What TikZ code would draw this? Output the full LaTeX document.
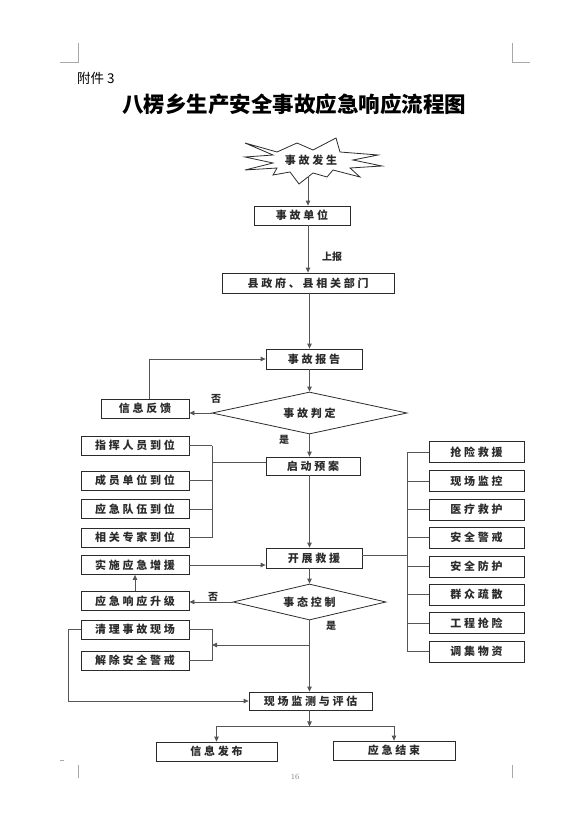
\documentclass[tikz,border=0pt]{standalone}
\usepackage{fontspec}
\newfontfamily\cjk{Noto Sans CJK SC}
\newfontfamily\cjkbox{Noto Sans CJK SC}[LetterSpace=25]
\usepackage{xcolor}
\usetikzlibrary{arrows.meta, positioning, calc, shapes.geometric}
\definecolor{linegray}{HTML}{555555}
\definecolor{inkgray}{HTML}{2B2B2B}
\definecolor{markgray}{HTML}{A8A8A8}

\begin{document}
\begin{tikzpicture}[x=1pt, y=-1pt,
    box/.style={draw=inkgray, line width=0.8pt, minimum height=19pt, inner sep=0pt,
        text=inkgray, font=\cjkbox\bfseries\fontsize{11}{13}\selectfont},
    dia/.style={box, shape=diamond, aspect=4.5},
    line/.style={draw=linegray, line width=0.8pt},
    arr/.style={line, -{Triangle[length=5pt, width=4.5pt]}},
    lbl/.style={text=inkgray, inner sep=0pt, font=\cjk\bfseries\fontsize{10}{12}\selectfont},
    cropmark/.style={draw=markgray, line width=0.6pt}]
    \useasboundingbox (0,0) rectangle (582,829);
    % page corners
    \draw[cropmark] (78,43) -- (78,62) -- (60,62);
    \draw[cropmark] (512,43) -- (512,62) -- (530,62);
    \draw[cropmark] (78,765) -- (78,778);
    \draw[cropmark] (512,765) -- (512,778);
    \draw[cropmark] (60,760) -- (64,760);
    \node[text=gray, font=\fontsize{8}{9}\selectfont] (pageno) at (295,777) {16};
    % heading
    \node[anchor=west, inner sep=0pt, font=\cjk\fontsize{13.5}{15}\selectfont] (annex) at (77,78) {附件 3};
    \node[inner sep=0pt, font=\cjk\bfseries\fontsize{21.5}{24}\selectfont] (title) at (294,104.5)
        {八楞乡生产安全事故应急响应流程图};
    % burst
    \draw[line, draw=inkgray] (245,143) -- (277,152) -- (297,143) -- (313,150) -- (336,138) -- (340,152)
        -- (378,155) -- (353,160) -- (382,166) -- (350,168) -- (360,177) -- (333,170) -- (327,177)
        -- (313,173) -- (299,184) -- (290,172) -- (273,175) -- (277,168) -- (245,170) -- (273,163)
        -- (245,157) -- (273,155) -- cycle;
    \node[box, draw=none] (burst) at (311,160) {事故发生};
    \coordinate (burstb) at (308,176);
    % main column
    \node[box, minimum width=96pt] (unit) at (302,215.5) {事故单位};
    \node[box, minimum width=172pt, minimum height=20pt] (county) at (308,283) {县政府、县相关部门};
    \node[box, minimum width=96pt, minimum height=20pt] (report) at (314,359) {事故报告};
    \node[dia, minimum width=195pt, minimum height=42pt] (judge) at (309.5,413) {事故判定};
    \node[box, minimum width=88pt] (feedback) at (145,408.5) {信息反馈};
    \node[box, minimum width=94pt, minimum height=18pt] (plan) at (313,466) {启动预案};
    \node[box, minimum width=96pt, minimum height=20pt] (rescue) at (314,558) {开展救援};
    \node[dia, minimum width=153pt, minimum height=36pt] (ctrl) at (309.5,602) {事态控制};
    \node[box, minimum width=123pt, minimum height=18pt] (assess) at (310.5,701) {现场监测与评估};
    \node[box, minimum width=121pt] (publish) at (216.5,751.5) {信息发布};
    \node[box, minimum width=122pt] (finish) at (394,750.5) {应急结束};
    % left column
    \node[box, minimum width=108pt] (command) at (135,445.5) {指挥人员到位};
    \node[box, minimum width=108pt] (member) at (135,480.5) {成员单位到位};
    \node[box, minimum width=108pt] (team) at (135,509) {应急队伍到位};
    \node[box, minimum width=108pt] (expert) at (135,537.5) {相关专家到位};
    \node[box, minimum width=108pt] (reinf) at (135,565) {实施应急增援};
    \node[box, minimum width=108pt] (upgrade) at (135,601) {应急响应升级};
    \node[box, minimum width=108pt] (clean) at (135,629.5) {清理事故现场};
    \node[box, minimum width=108pt] (lift) at (135,660.5) {解除安全警戒};
    % right column
    \foreach \n/\y/\t in {salvage/452/抢险救援, monitor/481/现场监控, medic/509.5/医疗救护,
        guard/537.5/安全警戒, protect/566.5/安全防护, evac/594.5/群众疏散,
        works/623/工程抢险, supply/651.5/调集物资}
        \node[box, minimum width=95pt, minimum height=21pt] (\n) at (476.5,\y) {\t};
    % labels
    \node[lbl] (lbup) at (332,257) {上报};
    \node[lbl] (judgeno) at (216,399) {否};
    \node[lbl] (judgeyes) at (284,440) {是};
    \node[lbl] (ctrlno) at (213,597) {否};
    \node[lbl] (ctrlyes) at (331,626) {是};
    % buses
    \coordinate (lbus) at (212,462);
    \coordinate (rbus) at (407,555);
    \coordinate (cbus) at (212,645);
    \coordinate (split) at (309.5,645);
    % connectors
    \draw[arr] (burstb) -- (burstb |- unit.north);
    \draw[arr] (county.north |- unit.south) -- (county.north);
    \draw[arr] (judge.north |- county.south) -- (judge.north |- report.north);
    \draw[arr] (judge.north |- report.south) -- (judge.north);
    \draw[arr] (judge.west) -- (judge.west -| feedback.east);
    \draw[arr] ($(feedback.north)+(4,0)$) |- (report.west);
    \draw[arr] (judge.south) -- (judge.south |- plan.north);
    \foreach \n in {command, member, team, expert}
        \draw[line] (\n.east) -- (\n.east -| lbus);
    \draw[line] (command.east -| lbus) -- (expert.east -| lbus);
    \draw[line] (lbus) -- (lbus -| plan.west);
    \draw[arr] (judge.south |- plan.south) -- (judge.south |- rescue.north);
    \foreach \n in {salvage, monitor, medic, guard, protect, evac, works, supply}
        \draw[line] (\n.west) -- (\n.west -| rbus);
    \draw[line] (salvage.west -| rbus) -- (supply.west -| rbus);
    \draw[line] (rescue.east |- rbus) -- (rbus);
    \draw[arr] (reinf.east) -- (reinf.east -| rescue.west);
    \draw[arr] (upgrade.north) -- (reinf.south);
    \draw[arr] (ctrl.north |- rescue.south) -- (ctrl.north);
    \draw[arr] (ctrl.west) -- (ctrl.west -| upgrade.east);
    \draw[arr] (ctrl.south) -- (ctrl.south |- assess.north);
    \draw[arr] (split) -- (cbus);
    \draw[line] (clean.east) -| (cbus |- lift.east) -- (lift.east);
    \draw[arr] (clean.west) -- ++(-12,0) |- (assess.west);
    \draw[arr] (assess.south -| ctrl.south) -- ++(0,16) coordinate (fork);
    \draw[arr] (fork) -| (publish.north);
    \draw[arr] (fork) -| (finish.north);
\end{tikzpicture}
\end{document}
